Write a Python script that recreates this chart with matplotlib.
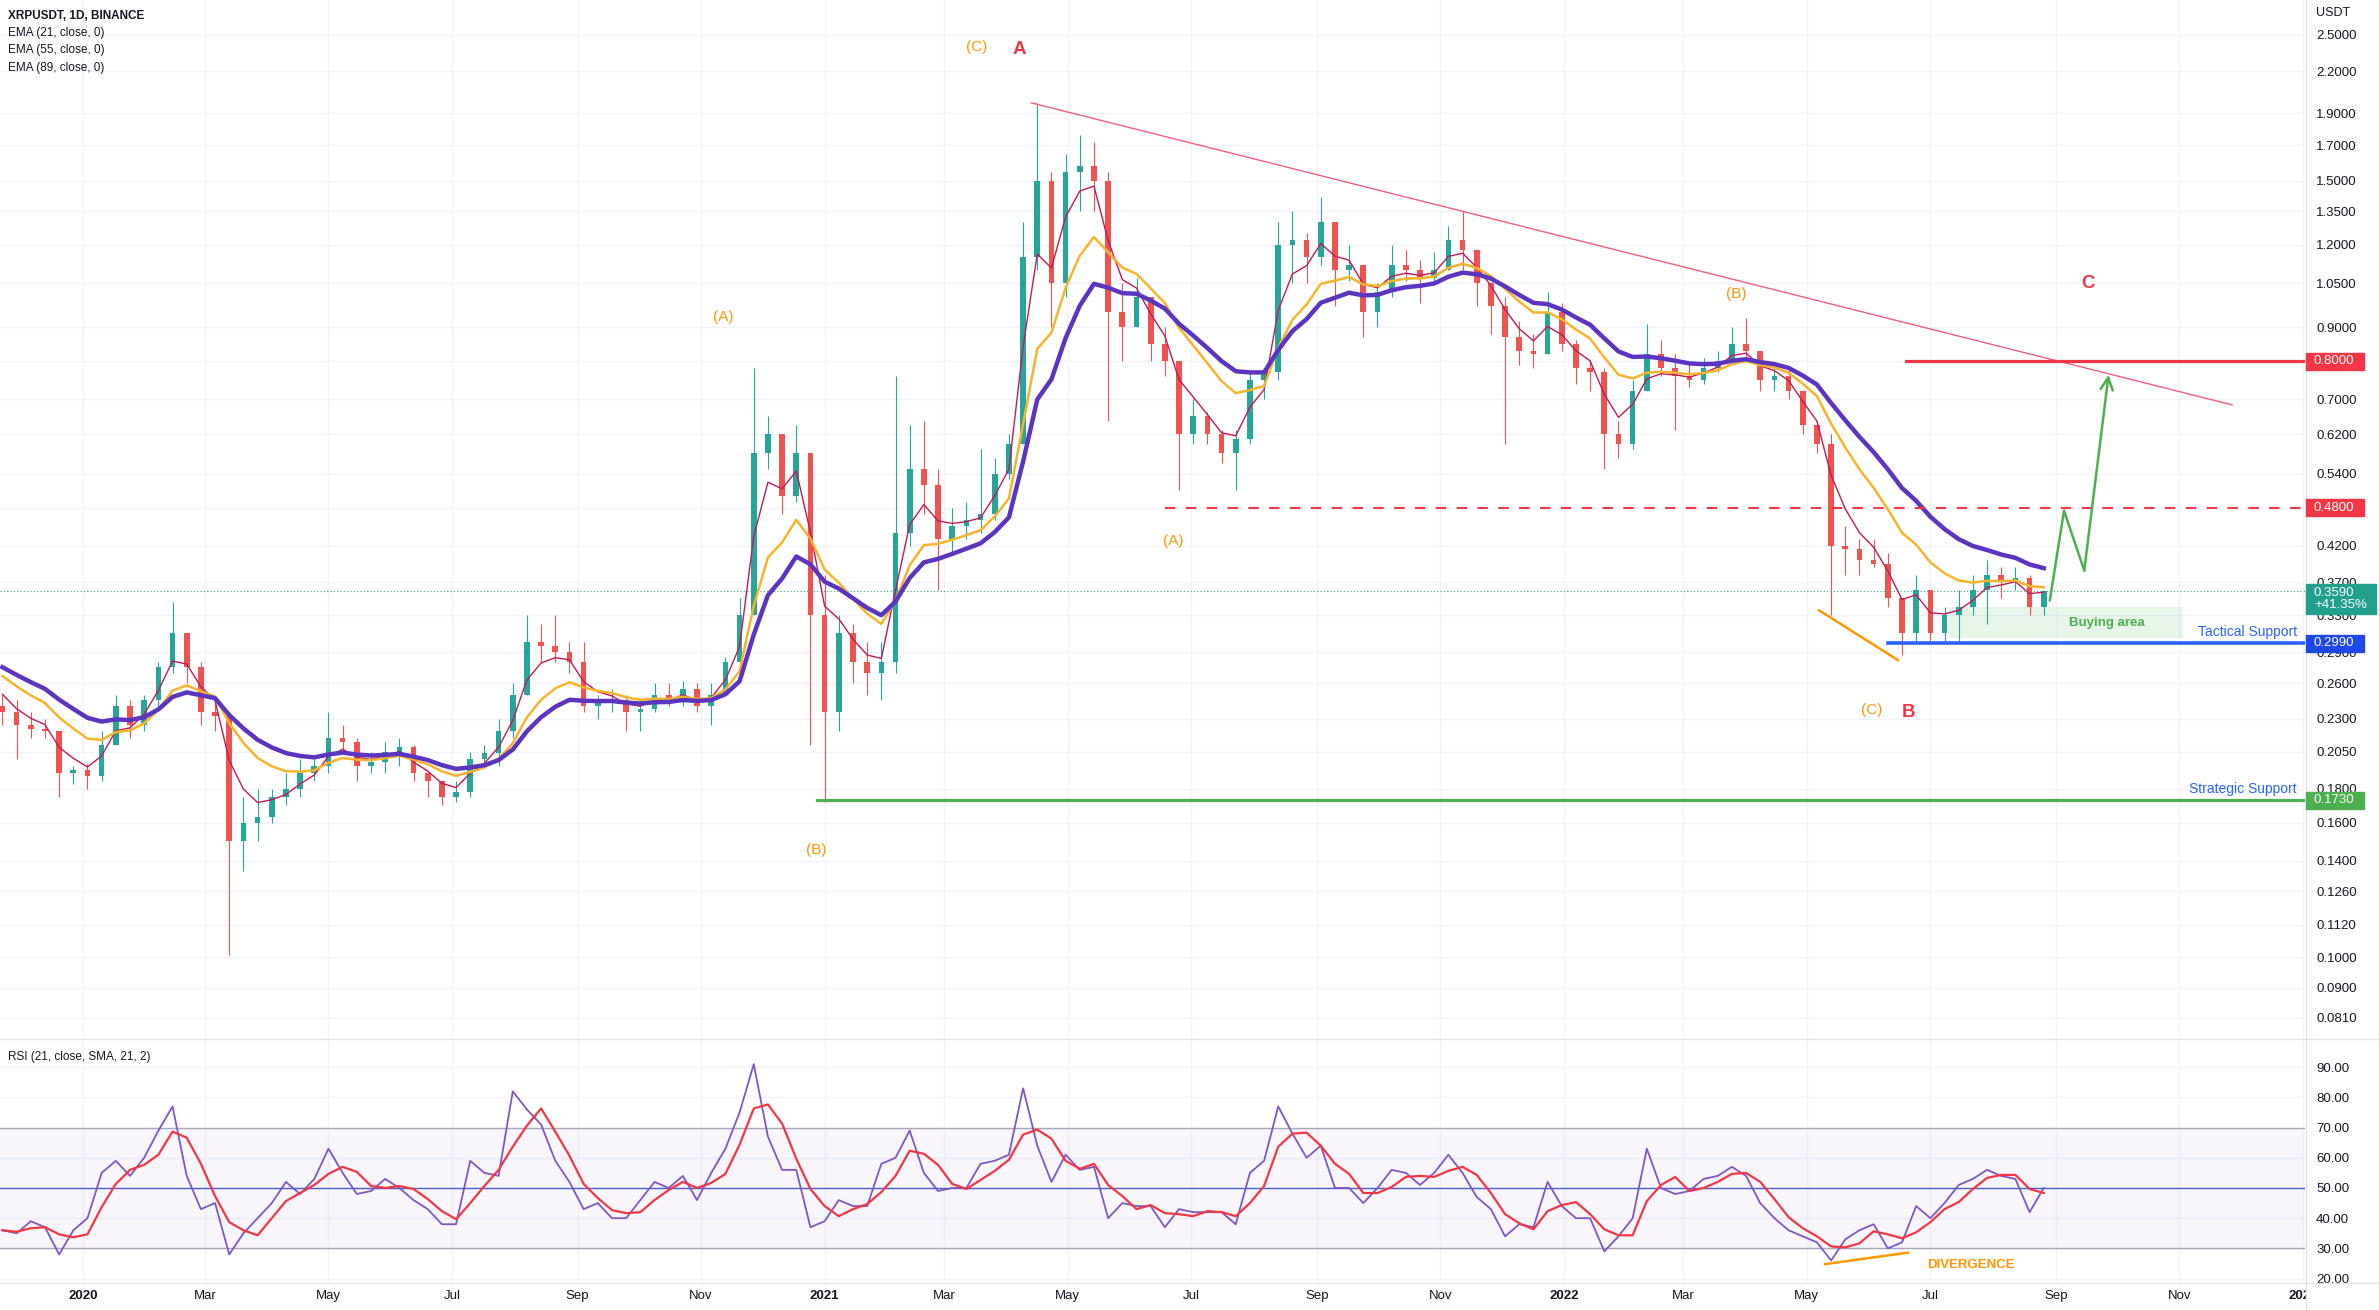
"""XRPUSDT daily chart with EMAs, wave labels, support levels and RSI pane."""

import numpy as np
import pandas as pd
import matplotlib
matplotlib.use('Agg')
from matplotlib import pyplot, transforms
from matplotlib import dates as mdates
from matplotlib.lines import Line2D
from matplotlib.patches import Rectangle
from matplotlib.ticker import NullLocator


# Weekly samples (week ending dates).
week_end = pd.date_range('2019-11-22', periods=145, freq='7D')
first_open = 0.240
closes = [
    0.235, 0.225, 0.222, 0.220, 0.190, 0.192, 0.188, 0.210, 0.240, 0.225,
    0.245, 0.275, 0.310, 0.275, 0.235, 0.232, 0.150, 0.160, 0.163, 0.175,
    0.180, 0.190, 0.195, 0.215, 0.212, 0.195, 0.198, 0.205, 0.208, 0.190,
    0.185, 0.175, 0.178, 0.200, 0.204, 0.220, 0.250, 0.300, 0.296, 0.290,
    0.280, 0.240, 0.243, 0.245, 0.235, 0.238, 0.250, 0.245, 0.255, 0.240,
    0.250, 0.280, 0.330, 0.580, 0.620, 0.500, 0.580, 0.330, 0.235, 0.310,
    0.280, 0.270, 0.280, 0.440, 0.550, 0.520, 0.430, 0.450, 0.460, 0.470,
    0.540, 0.600, 1.150, 1.500, 1.050, 1.550, 1.580, 1.500, 0.950, 0.900,
    1.000, 0.850, 0.800, 0.620, 0.660, 0.620, 0.580, 0.610, 0.750, 0.770,
    1.200, 1.220, 1.150, 1.300, 1.100, 1.120, 0.950, 1.020, 1.120, 1.100,
    1.070, 1.100, 1.220, 1.180, 1.050, 0.970, 0.870, 0.830, 0.820, 0.950,
    0.850, 0.780, 0.770, 0.620, 0.600, 0.720, 0.820, 0.780, 0.760, 0.750,
    0.780, 0.800, 0.850, 0.830, 0.750, 0.760, 0.720, 0.640, 0.600, 0.420,
    0.415, 0.400, 0.395, 0.350, 0.310, 0.360, 0.310, 0.330, 0.340, 0.360,
    0.380, 0.370, 0.375, 0.340, 0.359,
]
highs = [
    0.250, 0.245, 0.235, 0.230, 0.220, 0.195, 0.196, 0.220, 0.250, 0.245,
    0.250, 0.280, 0.345, 0.310, 0.280, 0.245, 0.235, 0.175, 0.180, 0.180,
    0.190, 0.200, 0.200, 0.235, 0.225, 0.215, 0.205, 0.212, 0.215, 0.210,
    0.190, 0.185, 0.185, 0.205, 0.210, 0.230, 0.260, 0.330, 0.320, 0.330,
    0.300, 0.300, 0.250, 0.255, 0.250, 0.245, 0.260, 0.260, 0.262, 0.260,
    0.260, 0.285, 0.350, 0.780, 0.660, 0.620, 0.640, 0.580, 0.380, 0.330,
    0.320, 0.300, 0.300, 0.760, 0.640, 0.650, 0.550, 0.480, 0.490, 0.590,
    0.570, 0.620, 1.300, 1.970, 1.550, 1.650, 1.760, 1.720, 1.550, 1.050,
    1.070, 1.000, 0.900, 0.800, 0.700, 0.670, 0.630, 0.630, 0.770, 0.780,
    1.300, 1.350, 1.250, 1.420, 1.300, 1.200, 1.120, 1.050, 1.200, 1.180,
    1.140, 1.170, 1.280, 1.350, 1.180, 1.050, 1.000, 0.920, 0.880, 1.020,
    0.980, 0.860, 0.800, 0.780, 0.650, 0.750, 0.910, 0.860, 0.820, 0.800,
    0.810, 0.830, 0.900, 0.930, 0.830, 0.780, 0.780, 0.720, 0.650, 0.620,
    0.450, 0.430, 0.430, 0.410, 0.350, 0.380, 0.360, 0.340, 0.360, 0.380,
    0.400, 0.390, 0.390, 0.380, 0.360,
]
lows = [
    0.225, 0.200, 0.215, 0.215, 0.175, 0.183, 0.180, 0.185, 0.210, 0.215,
    0.220, 0.240, 0.270, 0.260, 0.225, 0.220, 0.101, 0.135, 0.150, 0.160,
    0.170, 0.175, 0.185, 0.190, 0.205, 0.185, 0.190, 0.190, 0.195, 0.185,
    0.175, 0.170, 0.172, 0.175, 0.195, 0.195, 0.215, 0.250, 0.280, 0.280,
    0.270, 0.235, 0.230, 0.235, 0.220, 0.220, 0.235, 0.240, 0.240, 0.235,
    0.225, 0.250, 0.280, 0.330, 0.550, 0.470, 0.490, 0.210, 0.172, 0.220,
    0.260, 0.250, 0.245, 0.270, 0.420, 0.470, 0.360, 0.410, 0.430, 0.440,
    0.460, 0.530, 0.600, 1.100, 0.900, 1.000, 1.350, 1.350, 0.650, 0.800,
    0.900, 0.800, 0.760, 0.510, 0.600, 0.600, 0.560, 0.510, 0.600, 0.700,
    0.750, 1.050, 1.050, 1.120, 0.970, 1.060, 0.870, 0.900, 1.000, 1.060,
    0.980, 1.050, 1.100, 1.100, 0.970, 0.880, 0.600, 0.790, 0.780, 0.820,
    0.830, 0.740, 0.720, 0.550, 0.570, 0.590, 0.720, 0.760, 0.630, 0.730,
    0.740, 0.770, 0.800, 0.810, 0.720, 0.720, 0.700, 0.620, 0.580, 0.330,
    0.380, 0.380, 0.390, 0.340, 0.287, 0.300, 0.300, 0.300, 0.300, 0.330,
    0.320, 0.350, 0.360, 0.330, 0.330,
]
rsi_values = [
    36, 35, 39, 37, 28, 36, 40, 55, 59, 54,
    60, 69, 77, 54, 43, 45, 28, 35, 40, 45,
    52, 48, 53, 63, 55, 48, 49, 53, 50, 46,
    43, 38, 38, 59, 55, 54, 82, 76, 71, 59,
    52, 43, 45, 40, 40, 46, 52, 50, 54, 46,
    55, 63, 75, 91, 67, 56, 56, 37, 39, 46,
    44, 44, 58, 60, 69, 55, 49, 50, 50, 58,
    59, 61, 83, 64, 52, 61, 56, 57, 40, 45,
    44, 44, 37, 43, 42, 42, 42, 38, 55, 59,
    77, 68, 60, 64, 50, 50, 45, 50, 56, 55,
    51, 55, 61, 55, 47, 43, 34, 38, 37, 52,
    44, 40, 40, 29, 34, 40, 63, 50, 48, 49,
    53, 54, 57, 54, 45, 40, 36, 34, 32, 26,
    33, 36, 38, 30, 32, 44, 40, 45, 51, 53,
    56, 54, 53, 42, 50,
]

# EMA lengths and their values at the left edge of the chart.
ema_lengths = [21, 55, 89]
ema_start = [0.265, 0.276, 0.282]

price_ticks = [2.5, 2.2, 1.9, 1.7, 1.5, 1.35, 1.2, 1.05, 0.9, 0.8, 0.7, 0.62,
               0.54, 0.48, 0.42, 0.37, 0.33, 0.29, 0.26, 0.23, 0.205, 0.18,
               0.16, 0.14, 0.126, 0.112, 0.1, 0.09, 0.081]
rsi_ticks = [20, 30, 40, 50, 60, 70, 80, 90]
time_labels = ['2020', 'Mar', 'May', 'Jul', 'Sep', 'Nov',
               '2021', 'Mar', 'May', 'Jul', 'Sep', 'Nov',
               '2022', 'Mar', 'May', 'Jul', 'Sep', 'Nov', '2023']

# Drawings on the chart.
trend_dates = ['2021-04-13', '2022-11-27']
trend_prices = [1.97, 0.687]
level_prices = [0.80, 0.48, 0.299, 0.173]
level_starts = ['2022-06-19', '2021-06-18', '2022-06-10', '2020-12-28']
wedge_dates = ['2022-05-07', '2022-06-15']
wedge_prices = [0.3356, 0.282]
arrow_dates = ['2022-08-29', '2022-09-05', '2022-09-15', '2022-09-27']
arrow_prices = [0.3476, 0.475, 0.3856, 0.763]
buy_dates = ['2022-07-10', '2022-11-03']
buy_prices = [0.3046, 0.339]
wave_text = ['(C)', 'A', '(A)', '(B)', '(A)', '(B)', '(C)', 'B', 'C']
wave_dates = ['2021-03-17', '2021-04-07', '2020-11-12', '2020-12-28',
              '2021-06-22', '2022-03-27', '2022-06-02', '2022-06-20',
              '2022-09-17']
wave_prices = [2.39, 2.37, 0.933, 0.1456, 0.427, 1.012, 0.237, 0.235, 1.05]
div_dates = ['2022-05-10', '2022-06-20']
div_rsi = [24.8, 28.6]


def dn(s):
    return mdates.date2num(pd.Timestamp(s))


def ema(values, length, seed):
    # Weekly equivalent of a daily EMA of the given length.
    alpha = 1 - (1 - 2 / (length + 1)) ** 7
    s = pd.Series([seed] + list(values))
    return s.ewm(alpha=alpha, adjust=False).mean().to_numpy()[1:]


pyplot.rcParams['font.family'] = ['Liberation Sans', 'DejaVu Sans']
TXT = '#131722'
GRID = '#f0f3fa'
RED = '#f23645'
ORANGE = '#ff9800'
BLUE = '#2962ff'
GREEN = '#4caf50'

W, H = 2379, 1310
fig = pyplot.figure(figsize=(W / 100, H / 100), dpi=100, facecolor='white')
ax = fig.add_axes([0, 272 / H, 2305 / W, 1038 / H])
ax_rsi = fig.add_axes([0, 27 / H, 2305 / W, 243 / H], sharex=ax)

x = mdates.date2num(week_end)
x_left = dn('2020-01-01') - 41.2
x_right = dn('2020-01-01') + 1097.0

# Candles.
c = np.array(closes)
o = np.array([first_open] + closes[:-1])
hi = np.maximum(np.array(highs), np.maximum(o, c))
lo = np.minimum(np.array(lows), np.minimum(o, c))
colors = np.where(c >= o, '#26a69a', '#ef5350')
ax.vlines(x, lo, hi, colors=colors, lw=0.8, zorder=2)
ax.bar(x, np.abs(c - o), bottom=np.minimum(o, c), width=2.8,
       color=colors, lw=0, zorder=2)

# EMAs.
for length, seed, color, lw in zip(ema_lengths, ema_start,
                                   ['#c2185b', '#f6b42b', '#5b35c0'],
                                   [1.0, 1.8, 3.2]):
    ax.plot(x, ema(closes, length, seed), color=color, lw=lw, zorder=3)

ax.set_yscale('log')
ax.set_ylim(0.07549, 2.820)
ax.set_xlim(x_left, x_right)

month_ticks = mdates.date2num(pd.date_range('2020-01-01', '2023-01-01', freq='2MS'))
ax.set_xticks(month_ticks)
ax.yaxis.tick_right()
ax.set_yticks(price_ticks)
ax.set_yticklabels([f'{t:.4f}' for t in price_ticks])
ax.yaxis.set_minor_locator(NullLocator())
ax.tick_params(axis='y', length=0, pad=8, labelsize=9.5, labelcolor=TXT)
ax.tick_params(axis='x', length=0, labelbottom=False)
ax.grid(True, color=GRID, lw=1)
ax.set_axisbelow(True)
for s in ax.spines.values():
    s.set_visible(False)

# Drawings on the price pane.
blend = transforms.blended_transform_factory(ax.transAxes, ax.transData)
ax.plot([dn(d) for d in trend_dates], trend_prices, color='#f0607a', lw=1.0, zorder=4)
ax.axhline(0.359, color='#26a69a', ls=(0, (1, 2)), lw=0.8, zorder=1.5)
styles = [dict(color=RED, lw=2.3), dict(color=RED, lw=1.5, ls=(0, (5, 5))),
          dict(color=BLUE, lw=2.6), dict(color=GREEN, lw=2.3)]
for p, start, st in zip(level_prices, level_starts, styles):
    ax.plot([dn(start), x_right], [p, p], zorder=4, **st)
ax.add_patch(Rectangle((dn(buy_dates[0]), buy_prices[0]),
                       dn(buy_dates[1]) - dn(buy_dates[0]),
                       buy_prices[1] - buy_prices[0],
                       facecolor=GREEN, alpha=0.13, lw=0, zorder=1.6))
ax.text(dn('2022-09-26'), 0.3207, 'Buying area', color=GREEN,
        fontweight='bold', fontsize=9.5, ha='center', va='center', zorder=5)
ax.text(0.9965, 0.311, 'Tactical Support', transform=blend, ha='right',
        va='center', color=BLUE, fontsize=10, zorder=5)
ax.text(0.9965, 0.180, 'Strategic Support', transform=blend, ha='right',
        va='center', color=BLUE, fontsize=10, zorder=5)
ax.plot([dn(d) for d in wedge_dates], wedge_prices, color=ORANGE, lw=1.8, zorder=4)
ax.plot([dn(d) for d in arrow_dates[:3]], arrow_prices[:3], color=GREEN,
        lw=1.8, zorder=4)
ax.annotate('', xy=(dn(arrow_dates[3]), arrow_prices[3]),
            xytext=(dn(arrow_dates[2]), arrow_prices[2]),
            arrowprops=dict(arrowstyle='->', color=GREEN, lw=1.8,
                            mutation_scale=22, shrinkA=0, shrinkB=0), zorder=4)
for t, d, p in zip(wave_text, wave_dates, wave_prices):
    if t.startswith('('):
        ax.text(dn(d), p, t, color=ORANGE, fontsize=11, ha='center', va='center', zorder=5)
    else:
        ax.text(dn(d), p, t, color=RED, fontsize=13.5, fontweight='bold',
                ha='center', va='center', zorder=5)

# RSI pane.
ax_rsi.axhspan(30, 70, color='#7e57c2', alpha=0.05, lw=0, zorder=1)
ax_rsi.axhline(70, color='#a8a6b8', lw=1, zorder=1.5)
ax_rsi.axhline(30, color='#a8a6b8', lw=1, zorder=1.5)
ax_rsi.axhline(50, color='#4c5fc8', lw=1, zorder=1.5)
ax_rsi.plot(x, rsi_values, color='#7e57c2', lw=1.3, zorder=3)
rsi_sma = pd.Series(rsi_values).rolling(3, min_periods=1).mean()
ax_rsi.plot(x, rsi_sma, color=RED, lw=1.6, zorder=3)
ax_rsi.plot([dn(d) for d in div_dates], div_rsi, color=ORANGE, lw=1.8, zorder=4)
ax_rsi.text(dn('2022-07-21'), 24.6, 'DIVERGENCE', color=ORANGE, fontsize=9.5,
            fontweight='bold', ha='center', va='center', zorder=5)
ax_rsi.set_ylim(18.54, 99.0)
ax_rsi.yaxis.tick_right()
ax_rsi.set_yticks(rsi_ticks)
ax_rsi.set_yticklabels([f'{t:.2f}' for t in rsi_ticks])
ax_rsi.tick_params(axis='y', length=0, pad=8, labelsize=9.5, labelcolor=TXT)
ax_rsi.set_xticks(month_ticks)
ax_rsi.set_xticklabels(time_labels)
ax_rsi.tick_params(axis='x', length=0, pad=5, labelsize=9.5, labelcolor=TXT)
for lbl in ax_rsi.get_xticklabels():
    if lbl.get_text().startswith('20'):
        lbl.set_fontweight('bold')
ax_rsi.grid(True, color=GRID, lw=1)
ax_rsi.set_axisbelow(True)
for s in ax_rsi.spines.values():
    s.set_visible(False)
ax_rsi.set_xlim(x_left, x_right)

# Pane separators and cover for the clipped time label.
fig.add_artist(Rectangle((2306 / W, 0), 73 / W, 26 / H, transform=fig.transFigure,
                         color='white', zorder=10))
for y in (1039, 1283):
    fig.add_artist(Line2D([0, 1], [1 - y / H] * 2, transform=fig.transFigure,
                          color='#e0e3eb', lw=1, zorder=11))
fig.add_artist(Line2D([2305.5 / W] * 2, [0, 1], transform=fig.transFigure,
                      color='#e0e3eb', lw=1, zorder=11))

# Price badges on the right scale.
badges = [('0.8000', 0.80, RED, 58, 17), ('0.4800', 0.48, RED, 58, 17),
          ('0.3590\n+41.35%', 0.3496, '#22a08e', 70, 30),
          ('0.2990', 0.299, '#1e49e8', 58, 17), ('0.1730', 0.173, GREEN, 58, 17)]
for text, p, color, bw, bh in badges:
    ypix = ax.transData.transform((x_left, p))[1]
    fig.add_artist(Rectangle((2306 / W, (ypix - bh / 2) / H), bw / W, bh / H,
                             transform=fig.transFigure, color=color, zorder=12))
    fig.text(2314 / W, ypix / H, text, color='white', fontsize=9.5, va='center',
             linespacing=1.0, zorder=13)

# Header texts.
fig.text(2316 / W, 1 - 12.7 / H, 'USDT', fontsize=9, color=TXT, va='center')
fig.text(8 / W, 1 - 16 / H, 'XRPUSDT, 1D, BINANCE', fontsize=8.5,
         fontweight='bold', color=TXT, va='center')
for i, length in enumerate(ema_lengths):
    fig.text(8 / W, 1 - (33 + 17.3 * i) / H, f'EMA ({length}, close, 0)',
             fontsize=8.5, color=TXT, va='center')
fig.text(8 / W, 1 - 1057 / H, 'RSI (21, close, SMA, 21, 2)', fontsize=8.5,
         color=TXT, va='center')

fig.savefig('out.png', dpi=100, facecolor='white')
